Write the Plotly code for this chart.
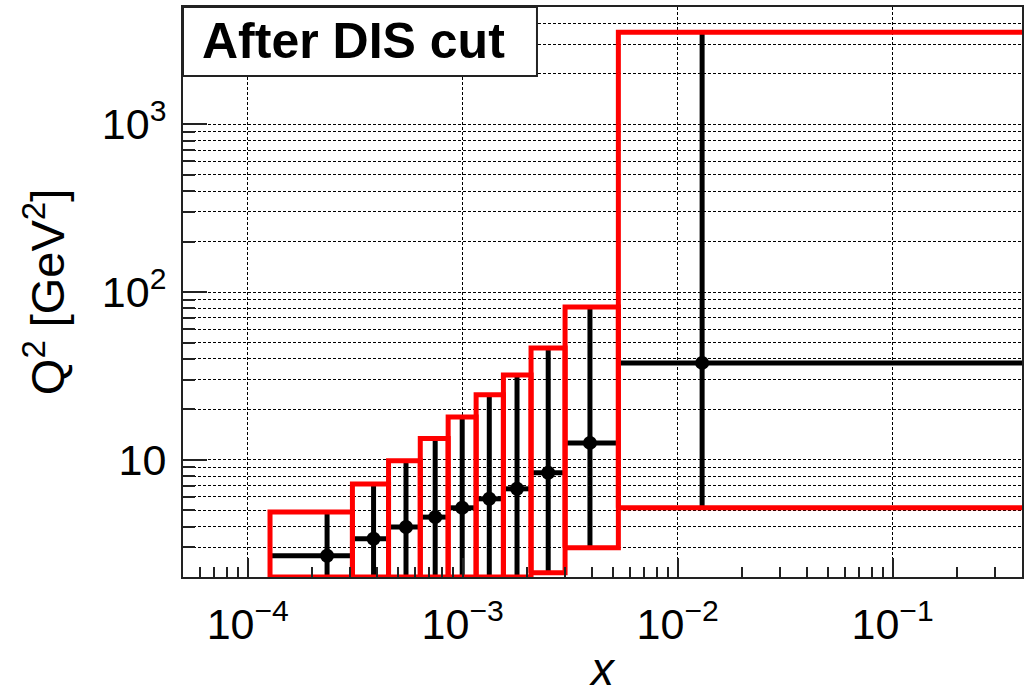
import plotly.graph_objects as go

# Kinematic bins: x and Q^2 (GeV^2) edges, plus bin-averaged values
x_lo = [1.27e-4, 3.07e-4, 4.52e-4, 6.35e-4, 8.56e-4, 1.155e-3, 1.547e-3, 2.08e-3, 2.995e-3, 5.30e-3]
x_hi = [3.07e-4, 4.52e-4, 6.35e-4, 8.56e-4, 1.155e-3, 1.547e-3, 2.08e-3, 2.995e-3, 5.30e-3, 1.0]
q2_lo = [2.0, 2.0, 2.0, 2.0, 2.0, 2.0, 2.0, 2.12, 2.99, 5.17]
q2_hi = [4.88, 7.16, 9.86, 13.4, 18.0, 24.4, 32.0, 46.4, 81.5, 3540.0]
x_mean = [2.34e-4, 3.85e-4, 5.45e-4, 7.45e-4, 9.95e-4, 1.33e-3, 1.79e-3, 2.50e-3, 3.91e-3, 1.30e-2]
q2_mean = [2.68, 3.38, 3.97, 4.55, 5.17, 5.85, 6.71, 8.36, 12.6, 37.8]

x_tickvals = [1e-4, 1e-3, 1e-2, 1e-1]
x_ticktext = ["10<sup>\u22124</sup>", "10<sup>\u22123</sup>", "10<sup>\u22122</sup>", "10<sup>\u22121</sup>"]
y_tickvals = [10, 100, 1000]
y_ticktext = ["10", "10<sup>2</sup>", "10<sup>3</sup>"]

FONT = "Liberation Sans, Arial, Helvetica, sans-serif"

fig = go.Figure()

# mean (x, Q^2) per bin with bars spanning the bin limits
fig.add_trace(go.Scatter(
    x=x_mean, y=q2_mean, mode="markers",
    marker=dict(color="black", size=14, symbol="circle"),
    error_x=dict(type="data", symmetric=False,
                 array=[h - m for h, m in zip(x_hi, x_mean)],
                 arrayminus=[m - l for m, l in zip(x_mean, x_lo)],
                 color="black", thickness=5, width=0),
    error_y=dict(type="data", symmetric=False,
                 array=[h - m for h, m in zip(q2_hi, q2_mean)],
                 arrayminus=[m - l for m, l in zip(q2_mean, q2_lo)],
                 color="black", thickness=5, width=0),
    showlegend=False, hoverinfo="skip",
))

# bin outlines
bx, by = [], []
for xl, xh, ql, qh in zip(x_lo, x_hi, q2_lo, q2_hi):
    bx += [xl, xh, xh, xl, xl, None]
    by += [ql, ql, qh, qh, ql, None]
fig.add_trace(go.Scatter(
    x=bx, y=by, mode="lines",
    line=dict(color="#ff0000", width=5),
    showlegend=False, hoverinfo="skip",
))

x_minor = [m * 10.0 ** e for e in range(-5, 0) for m in range(2, 10) if 5e-5 <= m * 10.0 ** e <= 0.4]
y_minor = [m * 10.0 ** e for e in range(0, 4) for m in range(2, 10) if 2 <= m * 10.0 ** e <= 5000]

GRID_DASH = "3px,2px"
axis_common = dict(
    showline=True, linecolor="#222222", linewidth=2, mirror=True,
    ticks="inside", tickcolor="#222222", tickwidth=2,
    showgrid=True, gridcolor="black", gridwidth=1, griddash=GRID_DASH,
    tickfont=dict(family=FONT, size=43, color="black"),
    zeroline=False, automargin=False,
)

fig.update_xaxes(
    type="log", range=[-4.30103, -0.39794],
    tickmode="array", tickvals=x_tickvals, ticktext=x_ticktext,
    ticklen=19, ticklabelstandoff=8,
    minor=dict(tickmode="array", tickvals=x_minor, ticks="inside", ticklen=10,
               tickcolor="#222222", tickwidth=2, showgrid=False),
    title=dict(text="<i>x</i>", font=dict(family=FONT, size=46, color="black"), standoff=16),
    **axis_common,
)
fig.update_yaxes(
    type="log", range=[0.30103, 3.69897],
    tickmode="array", tickvals=y_tickvals, ticktext=y_ticktext,
    ticklen=24, ticklabelstandoff=6,
    minor=dict(tickmode="array", tickvals=y_minor, ticks="inside", ticklen=12,
               tickcolor="#222222", tickwidth=2, showgrid=True,
               gridcolor="black", gridwidth=1, griddash=GRID_DASH),
    title=dict(text="Q<sup>2</sup> [GeV<sup>2</sup>]", font=dict(family=FONT, size=47, color="black"), standoff=22),
    **axis_common,
)

# label box in the top-left corner of the frame
fig.add_shape(type="rect", xref="paper", yref="paper",
              x0=0, x1=0.4219, y0=0.879, y1=1.0,
              line=dict(color="#222222", width=2), fillcolor="white", layer="above")
fig.add_annotation(text="<b>After DIS cut</b>", xref="paper", yref="paper",
                   x=0.0203, y=0.9395, xanchor="left", yanchor="middle",
                   showarrow=False, font=dict(family=FONT, size=50, color="black"))

fig.update_layout(
    width=1024, height=695,
    margin=dict(l=183, r=2, t=7, b=118),
    paper_bgcolor="white", plot_bgcolor="white",
    font=dict(family=FONT, color="black"),
)

fig.write_html("out.html")
